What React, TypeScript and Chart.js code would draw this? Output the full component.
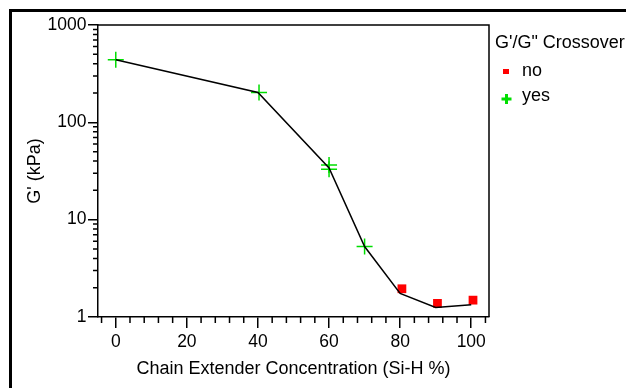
import React, { useEffect, useRef } from "react";
import { Chart, registerables } from "chart.js";

Chart.register(...registerables);

// ---- data ----
const lineX = [0, 40, 60, 70, 80, 90, 100];
const lineG = [440, 203, 34, 5.3, 1.75, 1.25, 1.34];
const yesX = [0, 40.3, 60, 60, 70];
const yesG = [440, 203, 36.4, 32.9, 5.3];
const noX = [80.5, 90.5, 100.5];
const noG = [1.95, 1.38, 1.49];
const xTickValues = [0, 20, 40, 60, 80, 100];
const xMinorValues = [-4, 4, 8, 12, 16, 24, 28, 32, 36, 44, 48, 52, 56, 64, 68, 72, 76, 84, 88, 92, 96, 104];
const yTickValues = [1, 10, 100, 1000];
const yMinorValues = [2, 3, 4, 5, 6, 7, 8, 9, 20, 30, 40, 50, 60, 70, 80, 90, 200, 300, 400, 500, 600, 700, 800, 900];
const legendTitle = "G'/G\" Crossover";
const legendLabels = ["no", "yes"];
const xTitle = "Chain Extender Concentration (Si-H %)";
const yTitle = "G' (kPa)";

const FONT = "'Liberation Sans', Arial, sans-serif";
const GREEN = "rgb(0,222,0)";
const RED = "rgb(255,0,0)";

const extrasPlugin = {
  id: "extras",
  afterDraw(chart: any) {
    const ctx = chart.ctx;
    const { left, right, top, bottom } = chart.chartArea;
    const xs = chart.scales.x;
    const ys = chart.scales.y;
    ctx.save();
    ctx.strokeStyle = "#000";
    ctx.lineWidth = 1.5;
    // box top/right
    ctx.beginPath();
    ctx.moveTo(left, top);
    ctx.lineTo(right, top);
    ctx.lineTo(right, bottom);
    ctx.stroke();
    // minor ticks
    ctx.beginPath();
    for (const v of xMinorValues) {
      const px = xs.getPixelForValue(v);
      ctx.moveTo(px, bottom);
      ctx.lineTo(px, bottom + 6);
    }
    for (const v of yMinorValues) {
      const py = ys.getPixelForValue(v);
      ctx.moveTo(left, py);
      ctx.lineTo(left - 5, py);
    }
    ctx.stroke();
    // legend
    ctx.fillStyle = "#000";
    ctx.font = `18px ${FONT}`;
    ctx.textBaseline = "alphabetic";
    ctx.textAlign = "left";
    ctx.fillText(legendTitle, 495, 48);
    ctx.fillText(legendLabels[0], 522, 76);
    ctx.fillText(legendLabels[1], 522, 100.5);
    ctx.fillStyle = RED;
    ctx.fillRect(503, 69, 6, 5);
    ctx.fillStyle = GREEN;
    ctx.fillRect(501.5, 97.5, 10, 3);
    ctx.fillRect(505, 94, 3, 10);
    ctx.restore();
  },
};

export default function App() {
  const ref = useRef<HTMLCanvasElement>(null);
  useEffect(() => {
    if (!ref.current) return;
    const chart = new Chart(ref.current, {
      type: "scatter",
      data: {
        datasets: [
          {
            label: "fit",
            data: lineX.map((x, i) => ({ x, y: lineG[i] })),
            showLine: true,
            borderColor: "#000",
            borderWidth: 1.5,
            pointRadius: 0,
            tension: 0,
            order: 0,
          } as any,
          {
            label: "yes",
            data: yesX.map((x, i) => ({ x, y: yesG[i] })),
            pointStyle: "cross",
            pointRadius: 8,
            pointBorderWidth: 1.5,
            borderColor: GREEN,
            backgroundColor: GREEN,
            order: 1,
          },
          {
            label: "no",
            data: noX.map((x, i) => ({ x, y: noG[i] })),
            pointStyle: "rect",
            pointRadius: 6.2,
            pointBorderWidth: 0,
            borderColor: RED,
            backgroundColor: RED,
            order: 1,
          },
        ],
      },
      options: {
        responsive: false,
        animation: false,
        devicePixelRatio: 1,
        layout: { padding: { left: 0, right: 137, top: 25, bottom: 0 } },
        plugins: { legend: { display: false }, tooltip: { enabled: false } },
        scales: {
          x: {
            type: "linear",
            min: -5,
            max: 105,
            afterBuildTicks: (s: any) => {
              s.ticks = xTickValues.map((v) => ({ value: v }));
            },
            afterFit: (s: any) => {
              s.height = 71;
            },
            grid: { drawOnChartArea: false, tickLength: 11, color: "#000", lineWidth: 1.5 },
            border: { display: true, color: "#000", width: 1.5 },
            ticks: {
              color: "#000",
              font: { family: FONT, size: 17.5 },
              padding: 4,
              maxRotation: 0,
              autoSkip: false,
              callback: (v: any) => String(v),
            },
            title: {
              display: true,
              text: xTitle,
              color: "#000",
              font: { family: FONT, size: 18 },
              padding: { top: 0, bottom: 8 },
            },
          },
          y: {
            type: "logarithmic",
            min: 1,
            max: 1000,
            afterBuildTicks: (s: any) => {
              s.ticks = yTickValues.map((v) => ({ value: v }));
            },
            afterFit: (s: any) => {
              s.width = 98;
            },
            grid: { drawOnChartArea: false, tickLength: 10, color: "#000", lineWidth: 1.5 },
            border: { display: true, color: "#000", width: 1.5 },
            ticks: {
              color: "#000",
              font: { family: FONT, size: 17.5 },
              padding: 1.5,
              autoSkip: false,
              callback: (v: any) => String(v),
            },
            title: {
              display: true,
              text: yTitle,
              color: "#000",
              font: { family: FONT, size: 18 },
              padding: { top: 24, bottom: 0 },
            },
          },
        },
      },
      plugins: [extrasPlugin],
    });
    return () => chart.destroy();
  }, []);

  return (
    <div style={{ position: "fixed", left: 0, top: 0, width: 626, height: 388, overflow: "hidden", background: "#fff" }}>
      <div
        style={{
          position: "absolute",
          left: 9,
          top: 9,
          width: 2000,
          height: 2000,
          borderTop: "3px solid #000",
          borderLeft: "3px solid #000",
        }}
      />
      <canvas ref={ref} width={626} height={388} style={{ position: "absolute", left: 0, top: 0, width: 626, height: 388 }} />
    </div>
  );
}
